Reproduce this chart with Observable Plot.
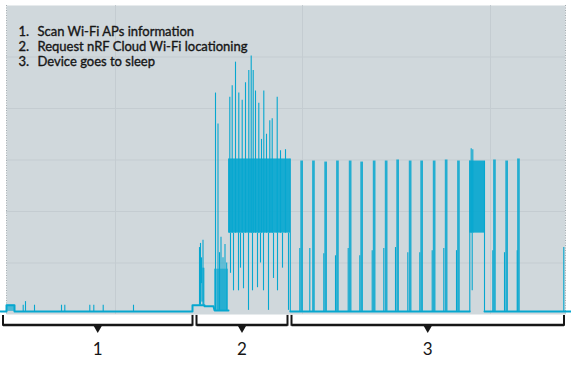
<!DOCTYPE html>
<html><head><meta charset="utf-8">
<script src="https://cdn.jsdelivr.net/npm/d3@7"></script>
<script src="https://cdn.jsdelivr.net/npm/@observablehq/plot@0.6"></script>
<style>html,body{margin:0;padding:0;background:#fff}</style>
</head><body><div id="chart"></div>
<script>
// ---------- data (time in ms, current in mA) ----------
const stepNumbers = ["1.", "2.", "3."];
const stepTexts = ["Scan Wi-Fi APs information", "Request nRF Cloud Wi-Fi locationing", "Device goes to sleep"];

const phaseLabels = ["1", "2", "3"];
const phaseStart = [25, 1960, 2910];
const phaseEnd = [1920, 2870, 5635];

const timeDomain = [60, 5650];
const currentDomain = [0, 300];
const gridCurrents = [50, 100, 150, 200, 250];
const gridTimes = [1150, 3020, 4900];

// main trace (NaN = gap)
const traceT = [0, 60, 60, 140, 140, 1920, 1920, 1990, 2040, 2040, 2130, 2140, 2280, NaN, 2898, 4693, NaN, 4840, 5710];
const traceV = [3, 3, 9, 9, 3, 3, 9, 9, 9, 8, 8, 4, 4, NaN, 3, 3, NaN, 3, 3];

// vertical excursions (spikes / drops)
const spikeT = [227, 250, 340, 610, 643, 893, 933, 1027, 1330,
  1990, 2000, 2010, 2025, 2033, 2150, 2175, 2190, 2205, 2225, 2245, 2262,
  2293, 2317, 2350, 2383, 2417, 2450, 2483, 2507, 2527, 2550, 2583, 2610, 2633, 2660, 2693, 2717, 2767, 2800, 2850,
  2300, 2330, 2380, 2400, 2430, 2480, 2520, 2570, 2600, 2630, 2680, 2730, 2770, 2820, 2880, 2898,
  4693, 4707, 4717, 4723, 4840,
  2993, 3093, 3233, 3350, 3477, 3593, 3717, 3833, 3950, 4073, 4193, 4317, 4433, 4560, 4923, 5040, 5167,
  5633];
const spikeLo = [3, 3, 3, 3, 3, 3, 3, 3, 3,
  9, 9, 30, 9, 9, 4, 4, 4, 4, 4, 4, 4,
  79, 79, 79, 79, 79, 79, 79, 79, 79, 79, 79, 79, 79, 79, 79, 79, 79, 79, 79,
  40, 23, 23, 45, 25, 4, 23, 26, 50, 23, 4, 35, 23, 45, 4, 3,
  3, 79, 23, 79, 3,
  3, 3, 3, 3, 3, 3, 3, 3, 3, 3, 3, 3, 3, 3, 3, 3, 3,
  3];
const spikeHi = [9, 12.5, 9, 9, 9, 9, 9, 9, 9,
  65, 69, 55, 72, 45, 215, 185, 60, 75, 55, 68, 50,
  211, 222, 245, 215, 208, 225, 237, 251, 237, 217, 205, 170, 217, 175, 188, 190, 211, 159, 160,
  79, 79, 79, 79, 79, 79, 79, 79, 79, 79, 79, 79, 79, 79, 79, 151,
  149, 161, 79, 160, 149,
  64, 64, 59, 57, 64, 57, 62, 64, 65, 60, 60, 62, 64, 62, 62, 60, 62,
  65];

// dense sampling bands (start, end, low, high)
const denseStart = [2280, 4693];
const denseEnd = [2900, 4840];
const denseLow = [79, 79];
const denseHigh = [151, 149];
const sparseStart = [60, 1990, 2140];
const sparseEnd = [140, 2035, 2280];
const sparseLow = [3, 12, 4];
const sparseHigh = [9, 45, 44];

// periodic sleep-phase pulses
const pulseStart = [3003, 3121, 3243, 3361, 3488, 3603, 3728, 3848, 3963, 4088, 4203, 4328, 4448, 4571, 4931, 5053, 5171];
const pulseEnd = [3030, 3148, 3270, 3388, 3515, 3630, 3755, 3875, 3990, 4115, 4230, 4355, 4475, 4598, 4958, 5080, 5198];
const pulseTop = [149, 149, 148, 149, 149, 148, 149, 149, 150, 149, 149, 149, 150, 149, 150, 149, 151];
const sleepCurrent = [3];

// ---------- build ----------
const trace = traceT.map((t, i) => ({t, v: traceV[i]}));
const spikes = spikeT.map((t, i) => ({t, lo: spikeLo[i], hi: spikeHi[i]}));
const dense = denseStart.map((s, i) => ({s, e: denseEnd[i], lo: denseLow[i], hi: denseHigh[i]}));
const sparse = sparseStart.map((s, i) => ({s, e: sparseEnd[i], lo: sparseLow[i], hi: sparseHigh[i]}));
const pulses = pulseStart.map((s, i) => ({s, e: pulseEnd[i], lo: sleepCurrent[0], hi: pulseTop[i]}));
const phases = phaseLabels.map((label, i) => ({label, start: phaseStart[i], end: phaseEnd[i], mid: (phaseStart[i] + phaseEnd[i]) / 2}));
const phaseEdges = phaseStart.concat(phaseEnd);

const cyan = "#06a7cf";
const ink = "#161616";
const bg = "#d0d8dc";
const gridColor = "#c4ccd1";
const barY = -10.2, tickTop = -0.9, tickBottom = -11.4, notchY = -13.4, labelY = -34;
const textStyle = {fontSize: 13, fill: ink, stroke: ink, strokeWidth: 0.35, fontFamily: "Lato", lineHeight: 1.154, frameAnchor: "top-left", dy: 20};

const chart = Plot.plot({
  width: 571, height: 366,
  marginLeft: 6, marginRight: 6, marginTop: 5, marginBottom: 52,
  x: {domain: timeDomain, axis: null},
  y: {domain: currentDomain, axis: null},
  style: {background: "#fff", overflow: "visible"},
  marks: [
    Plot.frame({fill: bg, stroke: null}),
    Plot.ruleY(gridCurrents, {stroke: gridColor, strokeOpacity: 1}),
    Plot.ruleX(gridTimes, {stroke: gridColor, strokeOpacity: 1}),
    Plot.ruleX(timeDomain, {stroke: "#a4acb1", strokeDasharray: "1,1.5", strokeOpacity: 1}),
    Plot.rect(sparse, {x1: "s", x2: "e", y1: "lo", y2: "hi", fill: cyan, fillOpacity: 0.65}),
    Plot.rect(dense, {x1: "s", x2: "e", y1: "lo", y2: "hi", fill: cyan, fillOpacity: 0.92}),
    Plot.ruleX(spikes, {x: "t", y1: "lo", y2: "hi", stroke: cyan, strokeWidth: 1.1, strokeOpacity: 1}),
    Plot.rect(pulses, {x1: "s", x2: "e", y1: "lo", y2: "hi", fill: cyan, fillOpacity: 0.85}),
    Plot.line(trace, {x: "t", y: "v", stroke: cyan, strokeWidth: 2}),
    Plot.link(phases, {x1: "start", x2: "end", y1: barY, y2: barY, stroke: ink, strokeWidth: 2.5}),
    Plot.ruleX(phaseEdges, {x: d => d, y1: tickTop, y2: tickBottom, stroke: ink, strokeWidth: 2}),
    Plot.dot(phases, {x: "mid", y: notchY, symbol: "triangle", rotate: 180, r: 3, fill: ink}),
    Plot.text(phases, {x: "mid", y: labelY, text: "label", fontSize: 17, fill: ink, fontFamily: "Lato"}),
    Plot.text([stepNumbers.join("\n")], {...textStyle, dx: 12}),
    Plot.text([stepTexts.join("\n")], {...textStyle, dx: 31})
  ]
});
document.getElementById("chart").appendChild(chart);
</script>
</body></html>
